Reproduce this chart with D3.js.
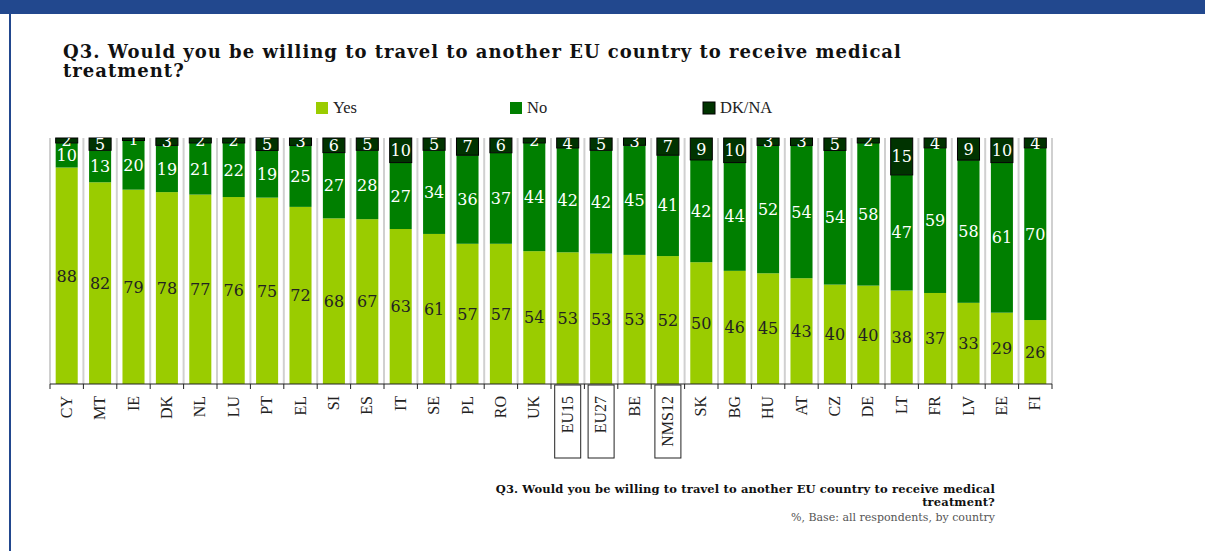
<!DOCTYPE html>
<html>
<head>
<meta charset="utf-8">
<script src="https://cdn.jsdelivr.net/npm/d3@7"></script>
<style>
  body { margin: 0; background: #ffffff; }
  svg { display: block; }
</style>
</head>
<body>
<div id="chart"></div>
<script>
// chart values
const categories = ["CY", "MT", "IE", "DK", "NL", "LU", "PT", "EL", "SI", "ES", "IT", "SE", "PL", "RO", "UK",
  "EU15", "EU27", "BE", "NMS12", "SK", "BG", "HU", "AT", "CZ", "DE", "LT", "FR", "LV", "EE", "FI"];
const yesValues = [88, 82, 79, 78, 77, 76, 75, 72, 68, 67, 63, 61, 57, 57, 54,
  53, 53, 53, 52, 50, 46, 45, 43, 40, 40, 38, 37, 33, 29, 26];
const noValues = [10, 13, 20, 19, 21, 22, 19, 25, 27, 28, 27, 34, 36, 37, 44,
  42, 42, 45, 41, 42, 44, 52, 54, 54, 58, 47, 59, 58, 61, 70];
const dkValues = [2, 5, 1, 3, 2, 2, 5, 3, 6, 5, 10, 5, 7, 6, 2,
  4, 5, 3, 7, 9, 10, 3, 3, 5, 2, 15, 4, 9, 10, 4];
const seriesKeys = ["yes", "no", "dk"];
const seriesLabels = ["Yes", "No", "DK/NA"];
const boxedCategories = ["EU15", "EU27", "NMS12"];
const titleLines = ["Q3. Would you be willing to travel to another EU country to receive medical", "treatment?"];
const noteLines = ["Q3. Would you be willing to travel to another EU country to receive medical", "treatment?"];
const baseNote = "%, Base: all respondents, by country";

function chartConfig() {
  let config = {
    width: 1205,
    height: 551,
    plot: { left: 50, right: 1052, top: 138, bottom: 384 },
    colors: { yes: "#9acc00", no: "#007f00", dk: "#003300" },
    labelColors: { yes: "#222222", no: "#ffffff", dk: "#ffffff" },
    frameColor: "#22488e",
    gridColor: "#d0d0d0",
    serif: "'DejaVu Serif', Georgia, serif",
    tickFont: "'Liberation Serif', 'Times New Roman', serif"
  };
  config.container = d3.select("#chart").append("svg")
    .attr("width", config.width)
    .attr("height", config.height);
  return config;
}

let cfg = chartConfig();

let rows = categories.map((c, i) => ({ cat: c, yes: yesValues[i], no: noValues[i], dk: dkValues[i] }));
let stacked = d3.stack().keys(seriesKeys).offset(d3.stackOffsetExpand)(rows);

let x = d3.scaleBand()
  .domain(categories)
  .range([cfg.plot.left, cfg.plot.right])
  .paddingInner(0.34)
  .paddingOuter(0.17);

let y = d3.scaleLinear()
  .domain([0, 1])
  .range([cfg.plot.bottom, cfg.plot.top]);

drawFrame();
drawTitle();
drawLegend();
drawGrid();
drawBars();
drawAxis();
drawNote();

function drawFrame() {
  cfg.container.append("rect")
    .attr("x", 0).attr("y", 0)
    .attr("width", cfg.width).attr("height", 14)
    .attr("fill", cfg.frameColor);
  cfg.container.append("rect")
    .attr("x", 9).attr("y", 0)
    .attr("width", 2).attr("height", cfg.height)
    .attr("fill", cfg.frameColor);
}

function drawTitle() {
  cfg.container.append("g")
    .selectAll("text")
    .data(titleLines)
    .join("text")
    .attr("x", 63)
    .attr("y", (d, i) => 58 + i * 19)
    .attr("font-family", cfg.serif)
    .attr("font-weight", "bold")
    .attr("font-size", 18)
    .attr("letter-spacing", 1)
    .attr("fill", "#111111")
    .text(d => d);
}

function drawLegend() {
  let legendX = d3.scaleOrdinal().domain(seriesKeys).range([316, 510, 703]);
  let g = cfg.container.append("g")
    .selectAll("g")
    .data(seriesKeys)
    .join("g")
    .attr("transform", d => `translate(${legendX(d)},102)`);
  g.append("rect")
    .attr("width", 12).attr("height", 12)
    .attr("fill", d => cfg.colors[d])
    .attr("stroke", d => d === "dk" ? "#000" : "none");
  g.append("text")
    .attr("x", 17).attr("y", 11)
    .attr("font-family", cfg.tickFont)
    .attr("font-size", 16.5)
    .attr("fill", "#222")
    .text((d, i) => seriesLabels[i]);
}

function drawGrid() {
  let bounds = categories.map(c => x(c) - x.step() * x.paddingOuter());
  bounds.push(cfg.plot.right);
  cfg.container.append("g")
    .selectAll("line")
    .data(bounds)
    .join("line")
    .attr("x1", d => d).attr("x2", d => d)
    .attr("y1", cfg.plot.top).attr("y2", cfg.plot.bottom)
    .attr("stroke", cfg.gridColor)
    .attr("stroke-width", 2);
}

function drawBars() {
  cfg.container.append("defs").append("clipPath")
    .attr("id", "plotClip")
    .append("rect")
    .attr("x", 0).attr("y", cfg.plot.top)
    .attr("width", cfg.width).attr("height", cfg.plot.bottom - cfg.plot.top);

  let layers = cfg.container.append("g")
    .selectAll("g")
    .data(stacked)
    .join("g")
    .attr("fill", d => cfg.colors[d.key]);

  layers.selectAll("rect")
    .data(d => d)
    .join("rect")
    .attr("x", d => x(d.data.cat))
    .attr("y", d => y(d[1]))
    .attr("width", x.bandwidth())
    .attr("height", d => y(d[0]) - y(d[1]))
    .attr("stroke", function () { return d3.select(this.parentNode).datum().key === "dk" ? "#000" : "none"; })
    .attr("stroke-width", 1);

  let labels = cfg.container.append("g")
    .attr("clip-path", "url(#plotClip)")
    .selectAll("g")
    .data(stacked)
    .join("g")
    .attr("fill", d => cfg.labelColors[d.key]);

  labels.selectAll("text")
    .data(d => d.map(p => ({ p: p, key: d.key })))
    .join("text")
    .attr("x", d => x(d.p.data.cat) + x.bandwidth() / 2)
    .attr("y", d => (y(d.p[0]) + y(d.p[1])) / 2)
    .attr("dy", "0.36em")
    .attr("text-anchor", "middle")
    .attr("font-family", cfg.serif)
    .attr("font-size", 16)
    .text(d => d.p.data[d.key]);
}

function drawAxis() {
  let g = cfg.container.append("g");
  let bounds = categories.map(c => x(c) - x.step() * x.paddingOuter());
  bounds.push(cfg.plot.right);

  g.append("line")
    .attr("x1", cfg.plot.left).attr("x2", cfg.plot.right)
    .attr("y1", cfg.plot.bottom).attr("y2", cfg.plot.bottom)
    .attr("stroke", "#222");
  g.selectAll(".tick")
    .data(bounds)
    .join("line")
    .attr("class", "tick")
    .attr("x1", d => d).attr("x2", d => d)
    .attr("y1", cfg.plot.bottom).attr("y2", cfg.plot.bottom + 5)
    .attr("stroke", "#222");

  g.selectAll(".box")
    .data(boxedCategories)
    .join("rect")
    .attr("class", "box")
    .attr("x", d => x(d) + x.bandwidth() / 2 - 13)
    .attr("y", cfg.plot.bottom + 1)
    .attr("width", 26)
    .attr("height", 73)
    .attr("fill", "none")
    .attr("stroke", "#222");

  g.selectAll(".lab")
    .data(categories)
    .join("text")
    .attr("class", "lab")
    .attr("transform", d => `translate(${x(d) + x.bandwidth() / 2 + 5},${cfg.plot.bottom + 12}) rotate(-90)`)
    .attr("text-anchor", "end")
    .attr("font-family", cfg.tickFont)
    .attr("font-size", 16)
    .attr("fill", "#222")
    .text(d => d);
}

function drawNote() {
  let g = cfg.container.append("g")
    .attr("font-family", cfg.serif)
    .attr("text-anchor", "end");
  g.selectAll("text.q")
    .data(noteLines)
    .join("text")
    .attr("class", "q")
    .attr("x", 995)
    .attr("y", (d, i) => 493 + i * 13)
    .attr("font-size", 11.5)
    .attr("letter-spacing", 0.15)
    .attr("font-weight", "bold")
    .attr("fill", "#111")
    .text(d => d);
  g.append("text")
    .attr("x", 995)
    .attr("y", 521)
    .attr("font-size", 11)
    .attr("fill", "#555")
    .text(baseNote);
}
</script>
</body>
</html>
